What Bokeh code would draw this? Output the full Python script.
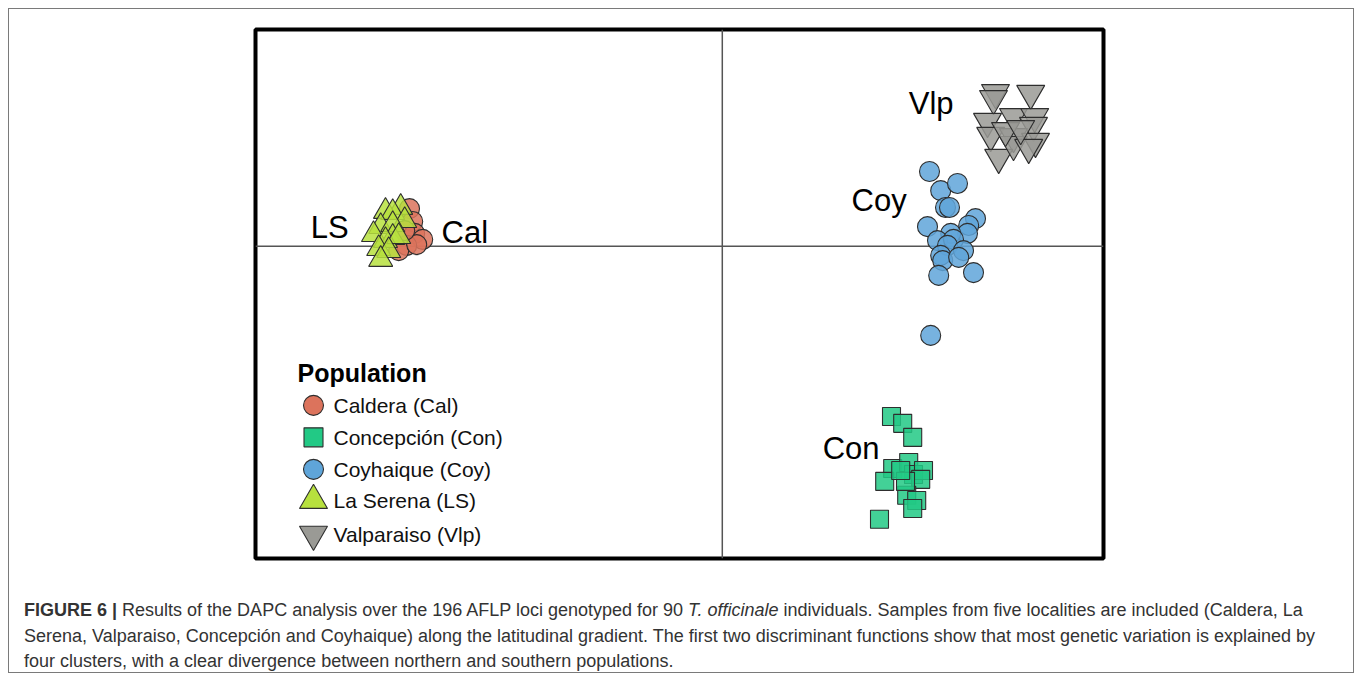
from bokeh.plotting import figure
from bokeh.models import Span, Div, ColumnDataSource
from bokeh.layouts import column
from bokeh.core.properties import value
from bokeh.embed import file_html
from bokeh.resources import INLINE

# ---------------- data (discriminant function scores) ----------------
populations = ["Caldera (Cal)", "Concepción (Con)", "Coyhaique (Coy)", "La Serena (LS)", "Valparaiso (Vlp)"]
short_names = ["Cal", "Con", "Coy", "LS", "Vlp"]

cal_x = [-7.82, -7.74, -7.69, -7.49, -7.89, -8.09, -7.64, -7.94]
cal_y = [0.94, 0.62, 0.32, 0.17, 0.02, -0.11, 0.04, 0.39]

con_x = [4.23, 4.51, 4.76, 4.26, 4.66, 4.06, 4.78, 5.03, 4.96, 4.61, 4.86, 4.76, 3.93, 4.58, 4.46]
con_y = [-4.26, -4.43, -4.78, -5.56, -5.41, -5.88, -5.71, -5.61, -5.83, -6.23, -6.36, -6.56, -6.83, -5.88, -5.61]

coy_x = [5.18, 5.46, 5.88, 5.58, 5.68, 5.13, 6.33, 6.16, 6.13, 5.71, 5.38, 5.78, 5.63, 6.03, 5.46, 5.51, 5.91, 5.41, 6.28, 5.21]
coy_y = [1.87, 1.39, 1.57, 0.97, 0.97, 0.49, 0.69, 0.52, 0.32, 0.32, 0.14, 0.17, 0.02, -0.11, -0.23, -0.36, -0.28, -0.73, -0.66, -2.23]

ls_x = [-8.04, -8.42, -8.24, -7.94, -8.54, -8.24, -8.72, -8.24, -8.42, -8.09, -8.59, -8.34, -8.54]
ls_y = [0.97, 0.87, 0.84, 0.64, 0.49, 0.54, 0.29, 0.22, 0.14, 0.24, -0.06, -0.11, -0.33]

vlp_x = [6.83, 6.78, 7.71, 6.63, 7.28, 7.81, 7.78, 6.71, 7.28, 6.91, 7.28, 7.83, 7.66, 7.08, 7.46]
vlp_y = [3.84, 3.69, 3.82, 3.12, 3.24, 3.24, 3.02, 2.77, 2.74, 2.22, 2.54, 2.62, 2.47, 2.89, 2.94]

# cluster label anchors (left, middle)
label_x = [-7.02, 2.51, 3.23, -10.29, 4.66]
label_y = [0.34, -5.06, 1.14, 0.47, 3.57]

caption_html = (
    "<b>FIGURE 6 |</b> Results of the DAPC analysis over the 196 AFLP loci genotyped for 90 "
    "<i>T. officinale</i> individuals. Samples from five localities are included (Caldera, La<br>"
    "Serena, Valparaiso, Concepción and Coyhaique) along the latitudinal gradient. The first two "
    "discriminant functions show that most genetic variation is explained by<br>"
    "four clusters, with a clear divergence between northern and southern populations."
)

# ---------------- styles ----------------
colors = ["#dc735c", "#22c985", "#5fa5d9", "#b7e03e", "#9a9a95"]
markers = ["circle", "square", "circle", "triangle", "inverted_triangle"]
sizes = [20, 18, 20, 24, 28]
legend_sizes = [20, 19, 20, 28, 28]
FONT = "Liberation Sans"

# ---------------- figure geometry ----------------
FW, FH = 1340, 560
BOX_W = 1346
CAP_H = 105
ML, MR, MT, MB = 246, 246, 20, 11
X0, X1 = -11.67, 9.53
Y0, Y1 = -7.81, 5.42
PX_PER_UNIT = 40.0
FRAME_LEFT_PX, FRAME_TOP_PX = 255, 29   # page pixels of the frame's top-left


def px2x(px):
    return X0 + (px - FRAME_LEFT_PX) / PX_PER_UNIT


def py2y(py):
    return Y1 - (py - FRAME_TOP_PX) / PX_PER_UNIT


p = figure(width=FW, height=FH, x_range=(X0, X1), y_range=(Y0, Y1),
           x_axis_location=None, y_axis_location=None, title=None,
           output_backend="svg", toolbar_location=None,
           min_border_left=ML, min_border_right=MR,
           min_border_top=MT, min_border_bottom=MB)
p.grid.visible = False
p.outline_line_color = "black"
p.outline_line_width = 4
p.background_fill_color = "white"
p.border_fill_color = "white"

p.add_layout(Span(location=0, dimension="height", line_color="#555555", line_width=1.5, level="underlay"))
p.add_layout(Span(location=0, dimension="width", line_color="#555555", line_width=1.5, level="underlay"))

xs = [cal_x, con_x, coy_x, ls_x, vlp_x]
ys = [cal_y, con_y, coy_y, ls_y, vlp_y]
for xv, yv, c, m, s in zip(xs, ys, colors, markers, sizes):
    p.scatter(xv, yv, marker=m, size=s, fill_color=c, fill_alpha=0.85,
              line_color="#2e2e2e", line_width=1.1)

p.text(x=label_x, y=label_y, text=short_names, text_font=value(FONT),
       text_font_size="31px", text_color="black",
       text_align="left", text_baseline="middle")

# ---------------- legend (drawn manually) ----------------
LEG_TITLE_PX = (297, 373)
LEG_MARK_X_PX = 313
LEG_TEXT_X_PX = 333
LEG_ROWS_PX = [405, 437, 469, 500, 534]

p.text(x=[px2x(LEG_TITLE_PX[0])], y=[py2y(LEG_TITLE_PX[1])], text=["Population"],
       text_font=value(FONT), text_font_size="25px", text_font_style="bold",
       text_color="black", text_align="left", text_baseline="middle")
leg_src = ColumnDataSource(dict(
    x=[px2x(LEG_MARK_X_PX)] * 5,
    y=[py2y(r) for r in LEG_ROWS_PX],
    tx=[px2x(LEG_TEXT_X_PX)] * 5,
    marker=markers, size=legend_sizes, color=colors, label=populations))
p.scatter("x", "y", marker="marker", size="size", fill_color="color",
          line_color="#2e2e2e", line_width=1.1, source=leg_src)
p.text(x="tx", y="y", text="label", source=leg_src, text_font=value(FONT),
       text_font_size="21px", text_color="#111111",
       text_align="left", text_baseline="middle")

cap = Div(text=(
    '<div style="font-family:\'Liberation Sans\',Arial,sans-serif;font-size:18px;'
    'line-height:25.5px;color:#333333;padding:24px 0 0 10px;white-space:nowrap">'
    + caption_html + '</div>'), width=FW, height=CAP_H)

layout = column(p, cap, width=BOX_W, height=FH + CAP_H, sizing_mode="fixed",
                styles={"border": "1px solid #7a7a7a", "background": "white",
                        "margin": "8px 0 0 8px"})

open("out.html", "w").write(file_html(layout, INLINE))
